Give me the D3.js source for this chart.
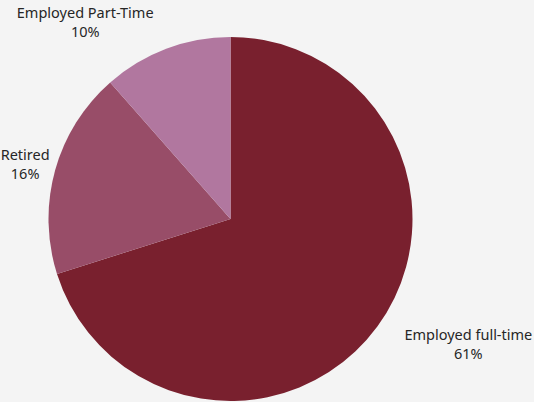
<!DOCTYPE html>
<html>
<head>
<meta charset="utf-8">
<script src="https://cdn.jsdelivr.net/npm/d3@7"></script>
<style>
  html, body { margin: 0; padding: 0; background: #f4f4f4; }
  svg { display: block; }
  .lbl { font-family: "Noto Sans", "Open Sans", sans-serif; font-size: 14.5px; fill: #262626; }
</style>
</head>
<body>
<svg id="chart"></svg>
<script>
const categories = ["Employed full-time", "Retired", "Employed Part-Time"]
const values = [61, 16, 10]
const colors = ["#79202e", "#984d68", "#b1779f"]

const width = 534, height = 402
const cx = 230.5, cy = 219, radius = 182

// label offset from the slice's outer mid point
const label_offsets = [[91, 18], [-30, -5], [-81, -26]]

const svg = d3.select("#chart").attr("width", width).attr("height", height)
const g = svg.append("g").attr("transform", `translate(${cx},${cy})`)

const pie = d3.pie().sort(null).value(d => d.value)
const arc = d3.arc().innerRadius(0).outerRadius(radius)
const edge = d3.arc().innerRadius(radius).outerRadius(radius)

const data = categories.map((c, i) => ({name: c, value: values[i], color: colors[i]}))
const arcs = pie(data)

g.selectAll("path")
    .data(arcs)
    .join("path")
    .attr("d", arc)
    .attr("fill", d => d.data.color)

arcs.forEach((d, i) => {
    const [ex, ey] = edge.centroid(d)
    const x = ex + label_offsets[i][0]
    const y = ey + label_offsets[i][1]
    g.append("text").attr("class", "lbl").attr("text-anchor", "middle")
        .attr("x", x).attr("y", y - 5).text(d.data.name)
    g.append("text").attr("class", "lbl").attr("text-anchor", "middle")
        .attr("x", x).attr("y", y + 14).text(d.data.value + "%")
})
</script>
</body>
</html>
